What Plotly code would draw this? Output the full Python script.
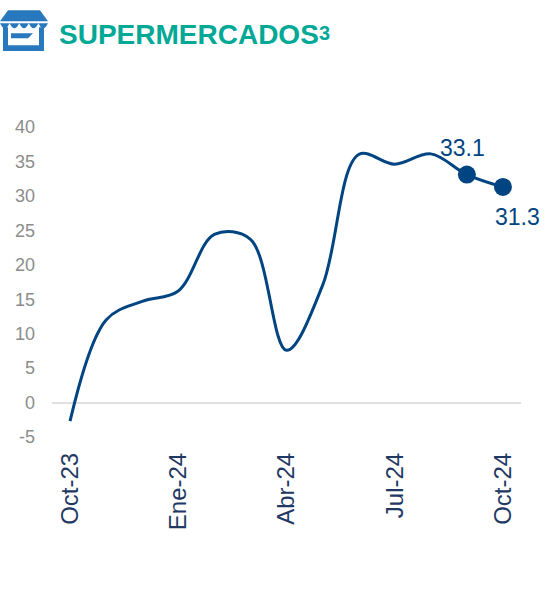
import plotly.graph_objects as go

months = ["Oct-23","Nov-23","Dic-23","Ene-24","Feb-24","Mar-24","Abr-24","May-24","Jun-24","Jul-24","Ago-24","Sep-24","Oct-24"]
values = [-2.7, 12.0, 14.7, 16.2, 24.4, 23.7, 7.6, 17.0, 36.0, 34.6, 36.1, 33.1, 31.3]
tick_labels = ["Oct-23","Ene-24","Abr-24","Jul-24","Oct-24"]
y_ticks = [-5,0,5,10,15,20,25,30,35,40]
y_tick_text = ["-5","0","5","10","15","20","25","30","35","40"]
marked_months = ["Sep-24","Oct-24"]
marked_values = [33.1, 31.3]

W, H = 545, 611
NAVY = "#004481"; TEAL = "#00A896"; BLUE = "#2878BE"
FONT = "Liberation Sans, Arial, sans-serif"
L, R, T, B = 52, 521, 127, 437.5

fig = go.Figure()
fig.add_trace(go.Scatter(x=months, y=values, mode="lines", line=dict(color=NAVY, width=3, shape="spline", smoothing=1.0), hoverinfo="skip", showlegend=False))
fig.add_trace(go.Scatter(x=marked_months, y=marked_values, mode="markers", marker=dict(color=NAVY, size=18), hoverinfo="skip", showlegend=False))

fig.add_annotation(x="Sep-24", y=33.1, text="33.1", showarrow=False, xshift=-4, yshift=27, font=dict(family=FONT, size=23, color=NAVY))
fig.add_annotation(x="Oct-24", y=31.3, text="31.3", showarrow=False, xshift=15, yshift=-30, font=dict(family=FONT, size=23, color=NAVY))

def px(x): return (x - L) / (R - L)
def py(y): return (B - y) / (B - T)
def pt(x, y): return f"{px(x):.4f} {py(y):.4f}"
def poly(pts): return "M " + " L ".join(pt(x, y) for x, y in pts) + " Z"
def add(d, c): return dict(type="path", xref="paper", yref="paper", path=d, fillcolor=c, line_width=0, layer="above")

shapes = [
    add(poly([(8,10),(40,10),(48,21),(0,21)]), BLUE),
    add(poly([(3,27),(8,27),(8,45),(39,45),(39,27),(44,27),(44,51),(3,51)]), BLUE),
    add(poly([(11,33),(33,33),(28,38),(11,38)]), BLUE),
]
for i in range(5):
    x0 = i * 9.6; x1 = x0 + 9.6; xm = (x0 + x1) / 2
    shapes.append(add(f"M {pt(x0,23)} Q {pt(xm,33)} {pt(x1,23)} Z", BLUE))

fig.update_layout(
    width=W, height=H, autosize=False, paper_bgcolor="white", plot_bgcolor="white",
    margin=dict(l=L, r=W-R, t=T, b=H-B, pad=0),
    shapes=shapes,
    font=dict(family=FONT),
    annotations=list(fig.layout.annotations) + [
        dict(xref="paper", yref="paper", x=px(57), y=py(34.5), xanchor="left", yanchor="middle", showarrow=False,
             text="<b>SUPERMERCADOS</b>", font=dict(family=FONT, size=28, color=TEAL)),
        dict(xref="paper", yref="paper", x=px(317), y=py(33), xanchor="left", yanchor="middle", showarrow=False,
             text="<b>3</b>", font=dict(family=FONT, size=20, color=TEAL)),
    ],
    xaxis=dict(type="category", categoryorder="array", categoryarray=months, range=[-0.5,12.5], tickmode="array", tickvals=tick_labels, ticktext=tick_labels,
               tickangle=-90, tickfont=dict(family=FONT, size=24, color="#1F3864"), showgrid=False, zeroline=False, showline=False, ticks="", ticklen=0, ticklabelstandoff=10),
    yaxis=dict(range=[-5,40], tickmode="array", tickvals=y_ticks, ticktext=y_tick_text, tickfont=dict(family=FONT, size=18, color="#8C8C8C"), showgrid=False, zeroline=True, zerolinecolor="#E0E0E0", zerolinewidth=1.5, showline=False, ticks="", ticklen=0, ticklabelstandoff=16),
)
fig.write_html("out.html", post_script="document.body.style.margin='0';", config={"displayModeBar": False})
